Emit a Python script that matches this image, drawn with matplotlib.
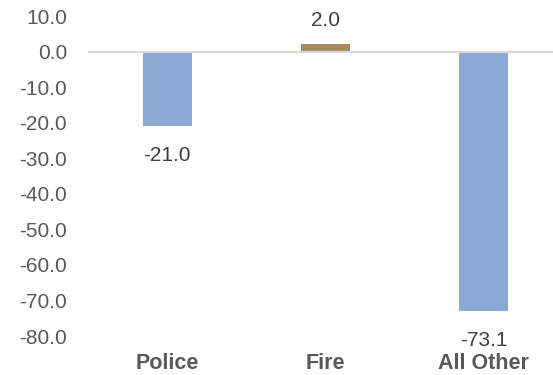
import matplotlib
matplotlib.use("Agg")
import matplotlib.pyplot as plt

plt.rcParams['font.family'] = ['Liberation Sans', 'DejaVu Sans']

categories = ['Police', 'Fire', 'All Other']
values = [-21.0, 2.0, -73.1]
colors = ['#8AA9D6', '#A68A64', '#8AA9D6']
y_ticks = [10, 0, -10, -20, -30, -40, -50, -60, -70, -80]

fig = plt.figure(figsize=(5.53, 3.75), dpi=100)
# axes run a little past the right edge, as in the original layout
ax = fig.add_axes([88 / 553, 1 - 336 / 375, 475 / 553, 320 / 375])

x = list(range(len(categories)))
ax.bar(x, values, width=0.31, color=colors, linewidth=0, zorder=2)
ax.axhline(0, color='#D9D9D9', linewidth=1.6, zorder=3)

for xi, v in zip(x, values):
    if v >= 0:
        ax.annotate(f'{v:.1f}', (xi, v), xytext=(0, 10.5), textcoords='offset points',
                    ha='center', va='bottom', fontsize=15, color='#404040')
    else:
        ax.annotate(f'{v:.1f}', (xi, v), xytext=(0, -14), textcoords='offset points',
                    ha='center', va='top', fontsize=15, color='#404040')

ax.set_xlim(-0.5, 2.5)
ax.set_ylim(-80, 10)
ax.set_yticks(y_ticks)
ax.set_yticklabels([f'{t:.1f}' for t in y_ticks], fontsize=15, color='#595959')
ax.set_xticks(x)
ax.set_xticklabels(categories, fontsize=15.5, fontweight='bold', color='#595959')
ax.tick_params(axis='both', length=0)
ax.tick_params(axis='y', pad=15)
ax.tick_params(axis='x', pad=12)
for s in ax.spines.values():
    s.set_visible(False)

fig.savefig('out.png', dpi=100, facecolor='white')
